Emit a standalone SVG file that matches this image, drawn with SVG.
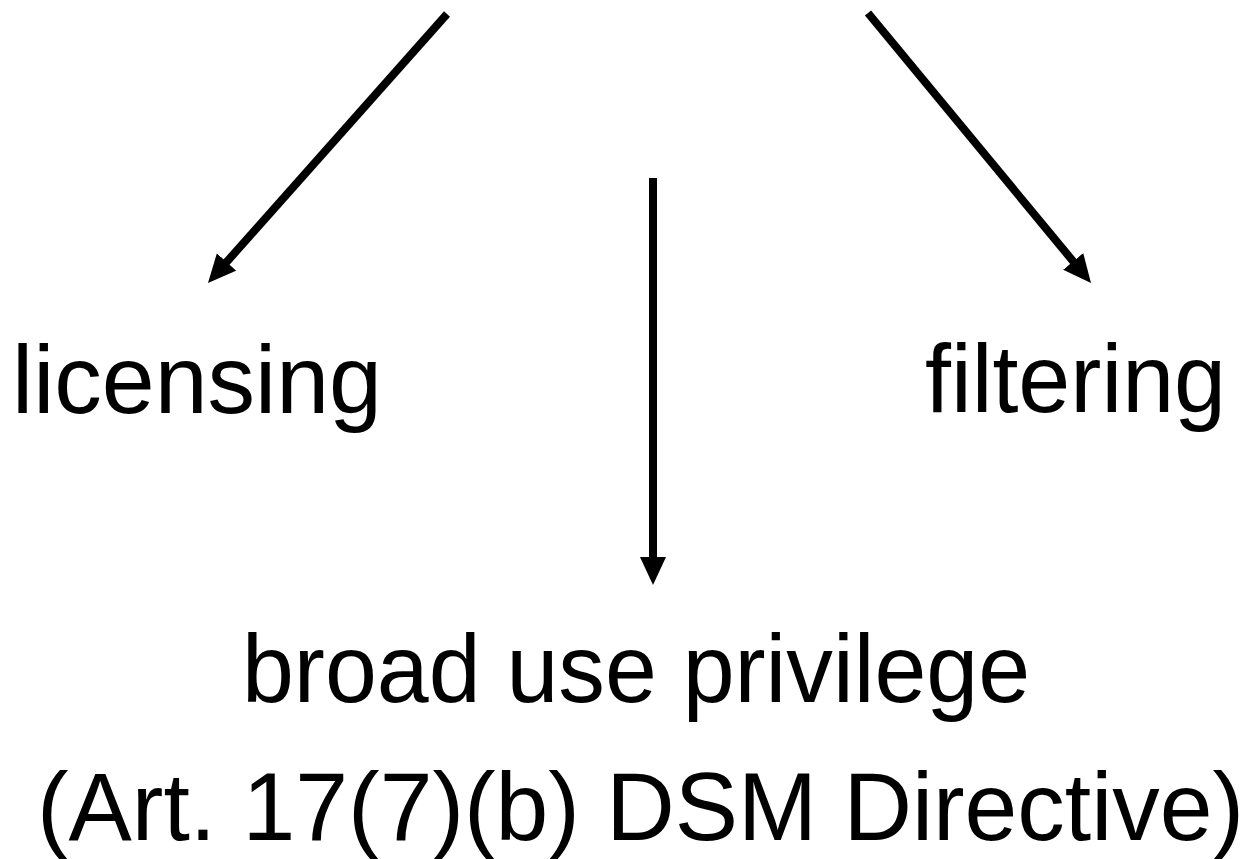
<svg xmlns="http://www.w3.org/2000/svg" width="1258" height="859" viewBox="0 0 1258 859">
<style>
.lbl{font-family:"Liberation Sans",Arial,sans-serif;font-size:96px;fill:#000}
.conn{stroke:#000;stroke-width:8;fill:none}
</style>
<defs>
<marker id="ah" markerUnits="userSpaceOnUse" markerWidth="30" markerHeight="28" refX="6" refY="13" orient="auto">
<path d="M0,0 L28,13 L0,26 z" fill="#000"/>
</marker>
</defs>
<rect width="1258" height="859" fill="#fff"/>
<g id="connectors">
<line class="conn" x1="447" y1="14" x2="222.6" y2="266.5" marker-end="url(#ah)"/>
<line class="conn" x1="653" y1="178" x2="653" y2="563" marker-end="url(#ah)"/>
<line class="conn" x1="868" y1="13" x2="1077" y2="266" marker-end="url(#ah)"/>
</g>
<g id="licensing"><text class="lbl" x="12" y="413" textLength="370" lengthAdjust="spacingAndGlyphs">licensing</text></g>
<g id="filtering"><text class="lbl" x="925" y="412" textLength="301" lengthAdjust="spacingAndGlyphs">filtering</text></g>
<g id="broad-use-privilege">
<text class="lbl" x="242" y="702" textLength="788" lengthAdjust="spacingAndGlyphs">broad use privilege</text>
<text class="lbl" x="37" y="840" textLength="1207" lengthAdjust="spacingAndGlyphs">(Art. 17(7)(b) DSM Directive)</text>
</g>
</svg>
